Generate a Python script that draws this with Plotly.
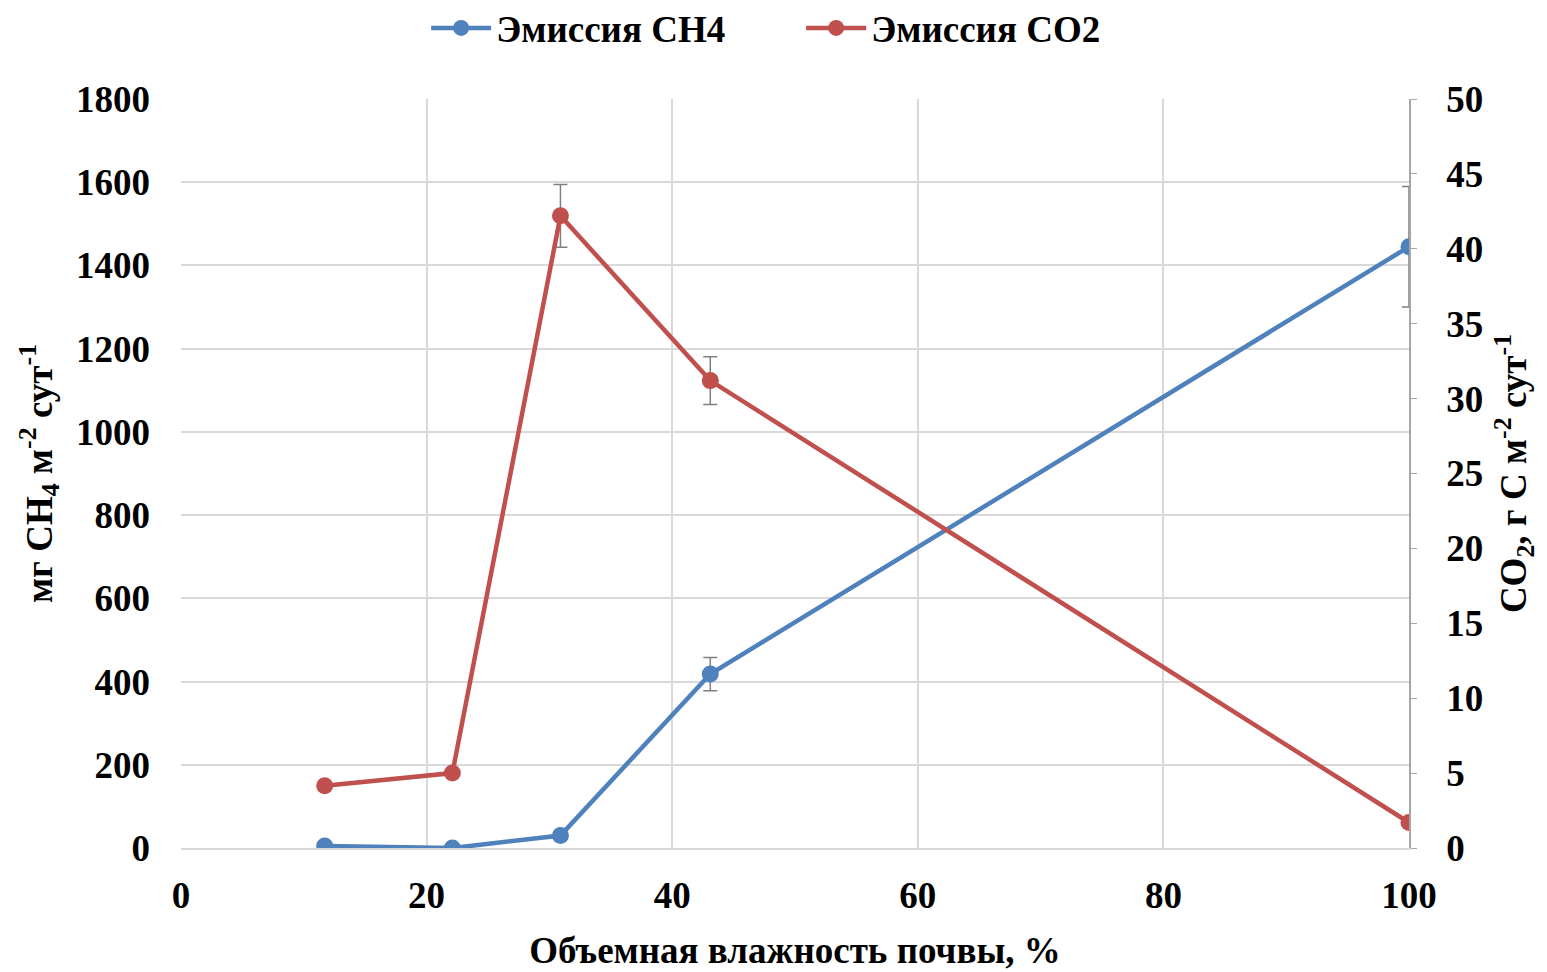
import plotly.graph_objects as go

moisture = [11.7, 22.1, 30.9, 43.1, 100]
ch4 = [5, 0, 30, 418, 1445]
ch4_err = [0, 0, 0, 40, 145]
co2 = [4.15, 5.0, 42.2, 31.2, 1.7]
co2_err = [0, 0, 2.1, 1.6, 0]

blue = "#4f81bd"
red = "#c0504d"
font_family = "Liberation Serif"

fig = go.Figure()
fig.add_trace(go.Scatter(
    x=moisture, y=ch4, name="Эмиссия CH4", mode="lines+markers",
    line=dict(color=blue, width=4.5), marker=dict(size=17, color=blue),
    error_y=dict(type="data", array=ch4_err, visible=True, color="#7f7f7f", thickness=1.5, width=7),
))
fig.add_trace(go.Scatter(
    x=moisture, y=co2, name="Эмиссия CO2", mode="lines+markers", yaxis="y2",
    line=dict(color=red, width=4.5), marker=dict(size=17, color=red),
    error_y=dict(type="data", array=co2_err, visible=True, color="#7f7f7f", thickness=1.5, width=7),
))

tickfont = dict(family=font_family, size=37, color="black", weight="bold")
titlefont = dict(family=font_family, size=37, color="black", weight="bold")

fig.update_layout(
    width=1547, height=972,
    paper_bgcolor="white", plot_bgcolor="white",
    margin=dict(l=173, r=146, t=91, b=132),
    font=dict(family=font_family, color="black"),
    showlegend=True,
    legend=dict(orientation="h", x=0.505, xanchor="center", y=0.979, yanchor="middle",
                yref="container", font=dict(family=font_family, size=37, color="black", weight="bold"),
                itemwidth=60, entrywidth=300, bgcolor="rgba(0,0,0,0)"),
    xaxis=dict(range=[0, 100], dtick=20, tick0=0, showgrid=True, gridcolor="#d9d9d9", gridwidth=1.5,
               showline=True, linecolor="#d9d9d9", linewidth=1.5, zeroline=False,
               ticks="", ticklabelstandoff=14, tickfont=tickfont,
               title=dict(text="Объемная влажность почвы, %", font=titlefont, standoff=22)),
    yaxis=dict(range=[0, 1800], dtick=200, showgrid=True, gridcolor="#d9d9d9", gridwidth=1.5,
               showline=False, zeroline=False, ticks="", ticklabelstandoff=30, tickfont=tickfont,
               title=dict(text="мг CH<sub>4</sub> м<sup>-2</sup> сут<sup>-1</sup>", font=titlefont, standoff=12)),
    yaxis2=dict(range=[0, 50], dtick=5, overlaying="y", side="right", showgrid=False,
                showline=True, linecolor="#a6a6a6", linewidth=1.5, zeroline=False,
                ticks="outside", ticklen=6, tickcolor="#a6a6a6", ticklabelstandoff=22, tickfont=tickfont,
                title=dict(text="CO<sub>2</sub>, г C м<sup>-2</sup> сут<sup>-1</sup>", font=titlefont, standoff=18)),
)

fig.write_html("out.html")
